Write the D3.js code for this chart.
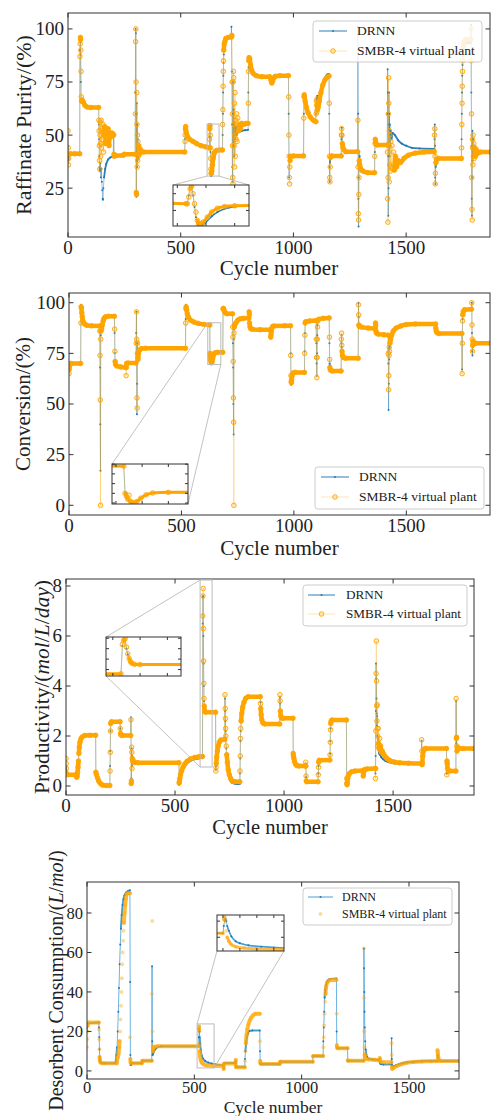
<!DOCTYPE html>
<html>
<head>
<meta charset="utf-8">
<script src="https://d3js.org/d3.v7.min.js"></script>
<style>
  body { margin: 0; background: #fff; }
  svg { display: block; }
</style>
</head>
<body>
<script>
// cycle / value pairs

var xTicks = [0, 500, 1000, 1500];
var purityTicks = [25, 50, 75, 100];
var convTicks = [0, 25, 50, 75, 100];
var prodTicks = [0, 2, 4, 6, 8];
var desTicks = [0, 20, 40, 60, 80];

var seriesNames = ["DRNN", "SMBR-4 virtual plant"];

var puritySmbr = [
  [0,52],[1,44],[2,36],[3,39],[4,41],[10,41.2],[30,41.2],[52,41.2],
  [53,87],[54,93],[55,96],[56,95],[57,90],[58,80],[59,68],[60,66],[63,66.5],[68,65.5],[75,64],[85,63.2],[100,63],[136,63],
  [137,57],[138,52],[139,45],[140,38],[141,34],[142,50],[143,56],[144,46],[145,40],[146,53],[147,57],[148,44],[150,52],[152,48],[155,55],[158,42],[160,50],[163,54],[166,46],[170,52],[174,48],[178,53],[182,45],[186,51],[190,49],[195,51],[200,50.5],[203,50],
  [204,41],[205,40],[210,40.3],[245,40.5],[250,41],[298,41],
  [299,60],[300,94],[301,100],[302,75],[303,23],[304,22],[305,70],[306,55],[307,35],[308,50],[309,38],[310,47],[312,40],[314,45],[317,41],[320,43.5],[325,42.5],[335,42],[518,42],
  [519,47],[520,50],[521,53],[522,54],[523,52],[525,51],[530,49.5],[540,48],[555,47],[570,46],[590,45],[610,44.5],[626,44],
  [627,44],[628,48],[629,53],[630,54.5],[631,50],[632,44],[633,39],[634,34],[635,32],[636,32],[638,33],[641,36],[644,39],[648,41.3],[653,42.3],[660,42.8],[672,43],[685,43],
  [686,55],[687,62],[688,73],[689,80],[690,85],[691,90],[693,93],[696,94],[700,95.5],[710,96],[726,96.2],
  [727,97],[728,75],[729,60],[730,45],[731,30],[732,27],[733,75],[734,80],[735,77],[736,55],[737,45],[738,65],[739,35],[740,50],[741,70],[742,40],[744,57],[746,48],[748,60],[750,47],[753,58],[756,52],[760,55],[765,53],[770,55.5],[780,55],[790,55.5],[799,55.5],
  [800,65],[801,80],[802,85],[803,86.5],[806,86],[810,83],[815,80.5],[822,79],[835,78],[860,77.5],[895,77.5],[900,76],[904,74.5],[908,75.5],[913,77],[920,77.7],[940,78],[978,78],
  [979,68],[980,50],[981,40],[982,30],[983,27],[984,35],[985,38],[988,40],[1000,40.2],[1045,40.2],
  [1046,58],[1047,68],[1048,69],[1052,66],[1058,63],[1065,60.5],[1075,58.5],[1088,57],[1100,56.3],
  [1101,60],[1102,66],[1103,64],[1104,61],[1105,67],[1106,62],[1108,65],[1110,63],[1115,66],[1122,70],[1130,73.5],[1140,76],[1150,77.3],[1158,77.8],
  [1159,65],[1160,40],[1161,30],[1162,28],[1163,35],[1165,39.5],[1170,40.2],[1212,40.2],
  [1213,50],[1214,53],[1215,50],[1217,46],[1220,44],[1225,43],[1232,42.2],[1285,42.2],
  [1286,57],[1287,35],[1288,13],[1289,10],[1290,22],[1291,30],[1292,38],[1294,36],[1297,34.5],[1302,33.5],[1310,33],[1330,32.3],[1360,32.3],
  [1361,40],[1362,46],[1363,48],[1365,46.5],[1370,45.3],[1416,45.3],
  [1417,42],[1418,20],[1419,9],[1420,30],[1421,60],[1422,77],[1423,65],[1424,45],[1425,28],[1426,52],[1427,36],[1428,50],[1430,33],[1432,47],[1434,35],[1437,45],[1440,34],[1444,42],[1448,33.5],[1453,40],[1458,35],[1465,38],[1475,37],[1490,39],[1510,40.5],[1540,41.5],[1580,42],[1625,42.2],
  [1626,50],[1627,53],[1628,40],[1629,27],[1630,32],[1632,37],[1635,38.5],[1645,39],[1745,39],
  [1746,44],[1747,55],[1748,65],[1749,73],[1750,80],[1751,85],[1752,88],[1754,92],[1757,94],[1765,95],[1787,95],
  [1788,100],[1789,85],[1790,60],[1791,30],[1792,15],[1793,10],[1794,48],[1795,44],[1796,36],[1797,50],[1798,40],[1800,46],[1802,39],[1805,44],[1808,40],[1812,43],[1818,41.5],[1830,42],[1875,42]
];

var purityDrnn = [
  [0,45],[1,40],[2,38],[4,41],[52,41.2],
  [53,90],[54,95],[55,94],[56,88],[57,75],[58,67],[59,66],[63,66],[68,65],[75,64],[85,63],[136,63],
  [137,55],[138,48],[139,40],[140,35],[142,33],[144,37],[146,30],[148,34],[150,28],[152,24],[154,20],[155,19.5],[157,25],[160,30],[165,34],[170,36.5],[178,38.5],[188,39.5],[200,40],[203,51],[204,41],[210,40.3],[250,41],[298,41],
  [299,70],[300,100],[301,98],[302,60],[303,21],[304,40],[305,65],[306,35],[307,55],[308,38],[310,48],[312,39],[315,45],[318,41.5],[322,43],[330,42.2],[518,42],
  [519,48],[521,53],[522,53],[525,51],[530,49.5],[540,48],[555,47],[570,46],[590,45],[610,44.5],[626,44],
  [627,44],[628,49],[629,54],[630,54.8],[631,49],[632,42],[633,36],[634,32],[635,30.7],[637,31],[640,33],[644,36.5],[648,39],[653,41],[660,42.3],[672,43],[685,43],
  [686,50],[687,60],[688,70],[689,78],[690,84],[691,88],[693,92],[696,94],[700,95.5],[710,96],[724,96.5],[725,101],
  [727,80],[728,55],[729,35],[730,28],[731,60],[732,75],[733,45],[735,62],[737,40],[739,56],[741,48],[744,54],[748,50],[752,52],[760,51.5],[770,52],[785,52.3],[799,52.5],
  [800,70],[801,82],[802,86.5],[806,86],[810,83],[815,80.5],[822,79],[835,78],[860,77.5],[895,77.5],[900,76],[904,74.5],[908,75.5],[913,77],[920,77.7],[940,78],[978,78],
  [979,60],[980,40],[981,30],[982,38],[985,39.5],[990,40],[1045,40.2],
  [1046,60],[1047,69],[1052,66],[1058,63],[1065,60.5],[1075,58.5],[1088,57],[1098,56.5],
  [1100,60],[1102,64],[1104,67],[1106,68.4],[1110,68],[1118,69.5],[1125,72],[1133,75],[1142,77.3],[1150,78.5],[1158,78.8],
  [1159,60],[1160,35],[1161,28],[1162,37],[1165,40],[1212,40.2],
  [1213,48],[1214,53.5],[1216,49],[1218,45],[1222,43.5],[1228,42.5],[1235,42.2],[1285,42.2],
  [1286,101],[1287,60],[1288,20],[1289,7],[1290,30],[1291,42],[1292,36],[1294,40],[1296,35],[1300,34],[1310,33.2],[1330,32.5],[1360,32.3],
  [1361,42],[1362,47],[1363,47.5],[1365,46],[1370,45.3],[1416,45.3],
  [1417,60],[1418,81],[1419,70],[1420,40],[1421,12],[1422,25],[1423,55],[1424,70],[1425,45],[1426,60],[1427,40],[1428,55],[1430,45],[1432,52],[1435,48],[1440,51],[1450,50],[1465,47.5],[1480,46],[1500,45],[1525,44],[1560,43.7],[1625,43.5],
  [1626,48],[1627,55],[1628,45],[1629,30],[1630,27],[1631,35],[1633,38],[1640,39],[1745,39],
  [1746,48],[1747,60],[1748,70],[1749,78],[1750,83],[1752,88],[1754,91],[1758,93],[1770,93.3],[1787,93.5],
  [1788,102],[1789,70],[1790,45],[1791,20],[1792,12],[1793,30],[1794,52],[1795,38],[1797,48],[1799,40],[1802,45],[1805,41],[1810,43],[1818,42],[1875,42]
];

var convSmbr = [
  [0,65],[1,67],[2,68.5],[4,69.8],[10,70],[52,70],
  [53,90],[54,98],[55,97.5],[57,95],[59,93],[62,91],[66,90],[72,89.3],[80,88.8],[100,88.6],[136,88.5],
  [137,86],[138,74],[139,52],[140,0],[141,82],[142,86],[145,87],[148,89],[152,91],[156,92.3],[162,93],[175,93.3],[202,93.3],
  [203,87],[204,76],[205,71],[207,69.5],[212,68.8],[230,68.3],[253,68],[254,64],[255,68],[256,70],[262,70.2],[298,70.2],
  [299,80],[300,95.5],[301,82],[302,53],[303,48],[304,75],[305,80],[306,73],[307,72],[309,75],[313,76.5],[320,77.3],[340,77.5],[518,77.5],
  [519,90],[520,97],[521,98],[523,96.5],[526,94.5],[531,93],[540,91.5],[555,90.5],[575,89.8],[600,89.3],[626,89],
  [627,75],[628,73.5],[629,72],[630,74],[631,71],[633,70.3],[636,70.8],[639,72.5],[643,74.2],[648,75.2],[660,75.5],[684,75.5],
  [685,97],[687,97.2],[690,96],[695,95],[702,94.6],[727,94.5],
  [728,88],[729,83],[730,71],[731,53],[732,41],[733,0],[734,85],[735,88],[737,89],[742,90],[750,91.3],[760,92],[775,92.3],[800,92.3],
  [801,95.5],[802,94],[803,90],[805,88],[808,87.2],[815,86.9],[850,86.7],[896,86.7],
  [897,83],[898,84],[899,85.5],[901,87],[905,88.2],[912,88.5],[960,88.6],[985,88.6],
  [986,74],[987,64],[988,61],[989,60.5],[990,62],[992,64],[996,65.3],[1005,65.6],[1047,65.6],
  [1048,75],[1049,84],[1050,90],[1052,90.6],[1070,91],[1099,91.2],
  [1100,82],[1101,73],[1102,63],[1103,73],[1104,82],[1105,88],[1106,91],[1110,91.8],[1130,92.3],[1157,92.5],
  [1158,83],[1159,72],[1160,68],[1162,66.8],[1170,66.3],[1210,66.3],
  [1211,82],[1212,85],[1213,79],[1214,76],[1216,74],[1220,73],[1230,72.6],[1286,72.6],
  [1287,99],[1288,94],[1289,89],[1291,88.3],[1300,88],[1330,87.5],[1362,87.2],
  [1363,90],[1364,88.5],[1365,86],[1367,85],[1375,84.5],[1400,84.2],[1419,84],
  [1420,75],[1421,57],[1422,64],[1423,74],[1424,78],[1425,76],[1427,80],[1430,82],[1435,84],[1442,86],[1455,87.5],[1475,88.5],[1500,89.2],[1540,89.5],[1630,89.5],
  [1631,87.5],[1633,86],[1636,85.2],[1645,84.8],[1747,84.8],
  [1748,65],[1749,80],[1750,91],[1751,94],[1753,95.5],[1758,96.5],[1790,96.8],
  [1791,100],[1792,89],[1793,82],[1794,76],[1795,79],[1797,81],[1800,80.2],[1810,80],[1872,80]
];

var convDrnn = [
  [0,69],[2,70],[52,70],
  [53,95],[54,99],[55,97.5],[57,95],[59,93],[62,91],[66,90],[72,89.3],[80,88.8],[100,88.6],[136,88.5],
  [137,86],[138,68],[139,40],[140,17],[141,84],[142,86],[145,87],[148,89],[152,91],[156,92.3],[162,93],[175,93.3],[202,93.3],
  [203,85],[204,75],[205,70],[207,69],[212,68.8],[230,68.3],[253,68],[255,68],[256,70],[298,70.2],
  [299,85],[300,95.5],[301,75],[302,45],[303,60],[304,80],[305,73],[307,72],[309,75],[313,76.5],[320,77.3],[340,77.5],[518,77.5],
  [519,92],[520,99],[521,98],[523,96.5],[526,94.5],[531,93],[540,91.5],[555,90.5],[575,89.8],[600,89.3],[626,89],
  [627,74],[628,75],[629,73],[630,71],[632,70],[634,70.5],[637,71.5],[640,73],[644,74.5],[650,75.3],[660,75.5],[684,75.5],
  [685,97],[687,97.2],[690,96],[695,95],[702,94.6],[727,94.5],
  [728,89],[729,80],[730,68],[731,50],[732,35],[733,82],[734,87],[737,89],[742,90],[750,91.3],[760,92],[775,92.3],[800,92.3],
  [801,95.5],[802,93],[803,89],[805,87.5],[808,87.2],[815,86.9],[850,86.7],[896,86.7],
  [897,84],[899,86],[901,87],[905,88.2],[912,88.5],[960,88.6],[985,88.6],
  [986,75],[987,62],[988,59.5],[989,61],[990,63],[992,64.5],[996,65.3],[1005,65.6],[1047,65.6],
  [1048,76],[1049,85],[1050,90],[1052,90.6],[1070,91],[1099,91.2],
  [1100,80],[1101,70],[1102,64],[1103,75],[1104,84],[1105,89],[1106,91],[1110,91.8],[1130,92.3],[1157,92.5],
  [1158,80],[1159,70],[1160,68.5],[1163,68.5],[1166,67],[1172,66.3],[1210,66.3],
  [1211,80],[1212,84],[1213,78],[1214,75],[1216,73.5],[1220,73],[1230,72.6],[1286,72.6],
  [1287,100],[1288,93],[1289,88.5],[1291,88.3],[1300,88],[1330,87.5],[1362,87.2],
  [1363,89],[1364,88],[1365,85.5],[1367,85],[1375,84.5],[1400,84.2],[1419,84],
  [1420,70],[1421,47],[1422,60],[1423,72],[1424,77],[1426,79],[1428,81],[1430,82.5],[1435,84.5],[1442,86.5],[1455,88],[1475,89],[1500,89.5],[1540,89.7],[1630,89.7],
  [1631,87],[1633,85.5],[1636,85],[1645,84.8],[1747,84.8],
  [1748,67],[1749,85],[1750,92],[1751,94.5],[1753,95.5],[1758,96.5],[1790,96.8],
  [1791,100],[1792,85],[1793,76],[1794,74],[1795,78],[1797,79.5],[1800,80],[1810,80],[1872,80]
];

var prodSmbr = [
  [0,1.1],[1,0.9],[2,0.7],[3,0.5],[6,0.45],[48,0.45],
  [49,0.35],[51,0.4],[53,0.55],[55,0.75],[57,1.0],[59,1.3],[61,1.55],[64,1.75],[68,1.88],[74,1.96],[85,2.02],[110,2.03],[136,2.03],
  [137,0.55],[140,0.45],[145,0.32],[150,0.2],[158,0.1],[168,0.04],[185,0.02],[201,0.02],
  [202,0.6],[203,1.35],[204,2.2],[205,2.5],[208,2.57],[248,2.57],
  [249,2.3],[250,2.1],[252,2.04],[258,2.02],[297,2.02],
  [298,2.65],[299,0.1],[300,0.2],[301,1.55],[302,1.35],[303,0.7],[304,1.1],[305,1.0],[307,1.05],[310,0.97],[316,0.94],[330,0.93],[518,0.93],
  [519,0.12],[520,0.17],[522,0.3],[525,0.45],[530,0.6],[537,0.76],[545,0.88],[555,0.99],[570,1.08],[590,1.14],[610,1.17],[626,1.18],
  [627,6.8],[628,7.6],[629,7.9],[630,6.3],[631,5.0],[632,4.1],[633,3.5],[634,3.2],[636,3.0],[640,2.95],[686,2.95],
  [687,0.6],[688,0.75],[689,0.9],[691,1.15],[694,1.4],[698,1.6],[703,1.75],[710,1.84],[728,1.86],
  [729,3.65],[730,3.1],[731,2.7],[732,2.3],[733,2.0],[735,1.6],[737,1.25],[740,0.95],[744,0.65],[749,0.45],[755,0.3],[763,0.2],[775,0.17],[797,0.17],
  [798,0.6],[799,1.2],[800,1.9],[801,2.3],[803,2.6],[806,2.9],[810,3.15],[816,3.35],[824,3.5],[835,3.57],[891,3.57],
  [892,3.3],[893,3.1],[895,2.85],[898,2.65],[903,2.52],[912,2.48],[980,2.48],
  [981,3.65],[982,3.4],[983,3.0],[985,2.8],[988,2.72],[995,2.71],[1041,2.71],
  [1042,1.3],[1043,1.2],[1045,1.1],[1048,0.98],[1052,0.88],[1058,0.82],[1068,0.8],[1098,0.8],
  [1099,0.95],[1100,0.8],[1101,0.4],[1102,0.2],[1104,0.17],[1156,0.17],
  [1157,0.45],[1158,0.75],[1159,0.95],[1161,1.03],[1210,1.04],
  [1211,1.25],[1212,1.75],[1213,2.25],[1214,2.5],[1216,2.6],[1220,2.64],[1286,2.64],
  [1287,0.3],[1288,0.1],[1289,0.05],[1290,0.15],[1292,0.3],[1295,0.42],[1300,0.5],[1310,0.57],[1325,0.6],[1362,0.62],
  [1363,0.4],[1364,0.5],[1366,0.6],[1370,0.66],[1380,0.68],[1418,0.7],
  [1419,0.3],[1420,0.7],[1421,2.2],[1422,4.5],[1423,5.8],[1424,4.2],[1425,3.2],[1426,2.6],[1427,3.25],[1428,2.3],[1429,2.0],[1430,1.6],[1432,2.3],[1434,1.7],[1436,1.5],[1438,1.9],[1440,1.45],[1443,1.6],[1446,1.35],[1450,1.4],[1455,1.3],[1462,1.2],[1472,1.1],[1485,1.02],[1505,0.96],[1530,0.93],[1570,0.91],[1630,0.9],
  [1631,1.85],[1632,1.4],[1633,0.85],[1634,0.95],[1636,1.2],[1639,1.4],[1643,1.48],[1650,1.5],[1745,1.5],
  [1746,0.45],[1747,1.0],[1748,0.9],[1750,0.7],[1753,0.62],[1760,0.6],[1788,0.6],
  [1789,3.5],[1790,1.9],[1791,1.95],[1792,1.6],[1793,1.4],[1795,1.5],[1797,1.55],[1800,1.5],[1820,1.5],[1871,1.5]
];

var prodDrnn = [
  [0,0.8],[2,0.55],[4,0.45],[48,0.45],
  [49,0.35],[51,0.4],[53,0.55],[55,0.75],[57,1.0],[59,1.3],[61,1.55],[64,1.75],[68,1.88],[74,1.96],[85,2.0],[110,2.02],[136,2.02],
  [137,0.5],[140,0.42],[145,0.3],[150,0.18],[158,0.08],[168,0.03],[185,0.01],[201,0.01],
  [202,0.8],[203,1.4],[204,2.2],[205,2.5],[208,2.57],[248,2.57],
  [249,2.3],[250,2.1],[252,2.04],[258,2.02],[297,2.02],
  [298,2.75],[299,0.2],[300,0.3],[301,1.5],[302,1.2],[303,0.8],[304,1.05],[305,0.97],[310,0.95],[316,0.93],[330,0.92],[518,0.92],
  [519,0.05],[520,0.1],[522,0.22],[525,0.35],[530,0.5],[537,0.66],[545,0.78],[555,0.9],[570,1.0],[590,1.07],[610,1.11],[626,1.12],
  [627,6.5],[628,7.55],[629,7.6],[630,6.0],[631,4.9],[632,4.0],[633,3.4],[634,3.15],[636,3.0],[640,2.93],[686,2.93],
  [687,0.65],[688,0.8],[689,0.95],[691,1.15],[694,1.4],[698,1.6],[703,1.75],[710,1.84],[728,1.86],
  [729,3.5],[730,3.0],[731,2.6],[732,2.2],[733,1.9],[735,1.5],[737,1.15],[740,0.85],[744,0.55],[749,0.35],[755,0.2],[763,0.12],[775,0.09],[797,0.08],
  [798,0.5],[799,1.1],[800,1.8],[801,2.2],[803,2.55],[806,2.85],[810,3.1],[816,3.33],[824,3.48],[835,3.56],[891,3.56],
  [892,3.35],[893,3.1],[895,2.85],[898,2.65],[903,2.52],[912,2.47],[980,2.47],
  [981,3.55],[982,3.3],[983,2.95],[985,2.78],[988,2.71],[995,2.7],[1041,2.7],
  [1042,1.2],[1043,1.15],[1045,1.05],[1048,0.95],[1052,0.86],[1058,0.81],[1068,0.79],[1098,0.79],
  [1099,0.9],[1100,0.75],[1101,0.35],[1102,0.18],[1104,0.16],[1156,0.16],
  [1157,0.5],[1158,0.8],[1159,0.97],[1161,1.03],[1210,1.03],
  [1211,1.3],[1212,1.8],[1213,2.3],[1214,2.5],[1216,2.6],[1220,2.63],[1286,2.63],
  [1287,0.25],[1288,0.08],[1289,0.04],[1290,0.12],[1292,0.25],[1295,0.38],[1300,0.47],[1310,0.55],[1325,0.59],[1362,0.61],
  [1363,0.42],[1364,0.52],[1366,0.6],[1370,0.65],[1380,0.67],[1418,0.69],
  [1419,0.5],[1420,1.2],[1421,3.0],[1422,4.9],[1423,4.3],[1424,3.5],[1425,2.9],[1426,2.4],[1427,2.8],[1428,2.0],[1429,1.75],[1430,1.5],[1432,1.9],[1434,1.45],[1436,1.3],[1440,1.25],[1446,1.15],[1455,1.07],[1465,1.0],[1480,0.95],[1505,0.91],[1530,0.9],[1570,0.89],[1630,0.89],
  [1631,1.8],[1632,1.3],[1633,0.85],[1634,0.95],[1636,1.2],[1639,1.38],[1643,1.47],[1650,1.49],[1745,1.49],
  [1746,0.5],[1747,0.95],[1748,0.85],[1750,0.68],[1753,0.6],[1760,0.58],[1788,0.58],
  [1789,3.4],[1790,1.7],[1791,1.85],[1792,1.5],[1793,1.35],[1795,1.45],[1797,1.5],[1800,1.48],[1820,1.48],[1871,1.48]
];

var desSmbr = [
  [0,12],[1,16],[2,20],[3,23],[5,24.5],[55,24.5],
  [56,21],[57,16],[58,11],[59,7],[60,5.5],[62,4.5],[66,4],[80,3.9],[139,3.9],
  [140,5],[144,7],[147,9],[150,12],[152,15],[154,20],[156,26],[158,33],[160,40],[162,47],[164,54],[166,60],[168,66],[170,71],[172,75],[175,80],[178,84],[181,87],[184,89.2],[188,90],[200,90],
  [201,17],[202,6],[203,4.3],[206,3.9],[256,3.9],
  [257,5],[260,5.1],[302,5.1],
  [303,39],[304,76],[305,20],[306,12.5],[307,10],[308,11],[310,11.8],[318,12.3],[330,12.5],[520,12.5],
  [521,21],[522,22.5],[523,20],[524,14],[525,10],[527,7.5],[530,5.5],[535,4.2],[545,3.3],[560,2.8],[590,2.5],[636,2.5],
  [637,1],[638,3.5],[640,3.8],[692,3.8],
  [693,5.5],[694,2.5],[695,1.8],[735,1.8],
  [736,5],[738,10],[740,14],[743,18],[747,21],[752,23.5],[758,25.5],[765,27],[775,28.3],[785,28.9],[805,29],
  [806,15],[807,5],[808,3.8],[812,3.5],[898,3.5],
  [899,4.6],[902,4.7],[1052,4.7],
  [1053,7.4],[1055,7.6],[1100,7.6],
  [1101,12],[1103,17],[1105,23],[1107,29],[1109,35],[1111,39],[1114,42.5],[1118,44.5],[1125,45.5],[1135,46],[1162,46],
  [1163,29],[1164,13],[1165,11.7],[1170,11.5],[1214,11.5],
  [1215,5.3],[1218,5.1],[1289,5.1],
  [1290,62],[1291,37],[1292,20],[1293,12],[1294,8.5],[1296,7],[1300,6.2],[1310,5.9],[1340,5.6],[1363,5.4],
  [1364,6.5],[1365,5],[1368,4.6],[1380,4.4],[1418,4.4],
  [1419,14],[1420,8],[1421,2],[1422,1],[1425,1.3],[1430,1.7],[1440,2.3],[1455,3.0],[1470,3.6],[1490,4.1],[1520,4.5],[1560,4.8],[1600,4.9],[1632,5],
  [1633,10.5],[1634,9.5],[1635,8.2],[1636,7],[1638,6],[1642,5.3],[1650,5],[1733,5]
];

var desDrnn = [
  [0,20],[1,22],[3,24],[55,24.5],
  [56,22],[57,17],[58,11],[59,7],[60,5.5],[62,4.5],[66,4],[80,3.9],[132,3.9],
  [134,5],[137,8],[140,12],[143,20],[146,30],[149,42],[152,54],[155,64],[158,72],[162,79],[166,84],[170,87],[175,89],[182,90.3],[190,91],[200,91.5],
  [201,45],[202,8],[203,3],[206,3.2],[210,3.9],[256,3.9],
  [257,5],[260,5.1],[302,5.1],
  [303,53],[304,15],[305,8],[307,8.5],[310,9.5],[315,10.5],[322,11.5],[332,12.2],[345,12.5],[520,12.5],
  [521,17],[522,20.5],[523,21.5],[524,20],[525,17],[527,14],[530,10.5],[535,7.5],[540,6.3],[550,5],[565,4.2],[580,3.7],[600,3.2],[636,3],
  [637,1.5],[638,4],[640,4],[692,4],
  [693,5],[694,2.5],[695,2],[735,2],
  [736,6],[738,10],[741,14],[745,17],[750,19],[756,20.2],[770,20.5],[805,20.5],
  [806,10],[807,4],[808,3.5],[812,3.5],[898,3.5],
  [899,4.6],[902,4.7],[1052,4.7],
  [1053,7.4],[1055,7.6],[1100,7.6],
  [1101,15],[1103,22],[1105,30],[1107,37],[1110,41],[1114,43.5],[1120,45.5],[1130,46.5],[1162,46.8],
  [1163,20],[1164,11.5],[1170,11.5],[1214,11.5],
  [1215,5.3],[1218,5.1],[1289,5.1],
  [1290,62],[1291,52],[1292,40],[1293,30],[1294,22],[1296,15],[1298,11],[1301,8.5],[1305,7],[1312,6.2],[1330,5.8],[1363,5.5],
  [1364,6],[1365,4],[1368,3.5],[1380,3.3],[1418,3.3],
  [1419,16.5],[1420,6],[1421,3],[1423,2.5],[1428,2.4],[1440,2.9],[1455,3.5],[1470,4],[1490,4.4],[1520,4.7],[1560,4.9],[1600,5],[1632,5],
  [1633,8],[1635,6.5],[1638,5.5],[1645,5],[1733,5]
];

// set up page

var width = 491,
  height = 1116;

var FONT = "'Liberation Serif', 'Times New Roman', serif";
var BLUE = "#1f77b4", ORANGE = "#ffa500";
var clipId = 0;

var svg = d3.select("body").append("svg")
    .attr("width", width)
    .attr("height", height);

// split a series into stretches where one marker per cycle would overlap into a band
function runsOf(data, x, y, maxStep) {
  var runs = [], cur = [data[0]];
  for (var i = 1; i < data.length; i++) {
    var p = data[i - 1], q = data[i];
    var dc = q[0] - p[0];
    var dpx = Math.abs(y(q[1]) - y(p[1]));
    if (dc >= 1 && dpx / dc <= maxStep) cur.push(q);
    else { if (cur.length > 1) runs.push(cur); cur = [q]; }
  }
  if (cur.length > 1) runs.push(cur);
  return runs;
}

function addClip(x0, y0, w, h) {
  var id = "clip" + (clipId++);
  svg.append("clipPath").attr("id", id)
    .append("rect").attr("x", x0).attr("y", y0).attr("width", w).attr("height", h);
  return "url(#" + id + ")";
}

function drawSeries(g, x, y, drnn, smbr, st, inset) {
  var line = d3.line().x(function(d) { return x(d[0]); }).y(function(d) { return y(d[1]); });
  var band = d3.line().x(function(d) { return x(d[0]); }).y(function(d) { return y(d[1]); })
      .curve(d3.curveMonotoneX);

  // DRNN
  g.append("path").datum(drnn).attr("d", line)
    .attr("fill", "none").attr("stroke", st.blueLine).attr("stroke-opacity", st.blueLineOp)
    .attr("stroke-width", 1);
  g.selectAll(null).data(runsOf(drnn, x, y, 3.5)).enter().append("path")
    .attr("d", band).attr("fill", "none").attr("stroke", st.blueLine)
    .attr("stroke-opacity", st.blueBandOp).attr("stroke-width", inset ? 1.6 : st.blueBandW);
  g.selectAll(null).data(drnn).enter().append("circle")
    .attr("cx", function(d) { return x(d[0]); }).attr("cy", function(d) { return y(d[1]); })
    .attr("r", 1).attr("fill", BLUE);

  // virtual plant
  if (st.orangeLine) {
    g.append("path").datum(smbr).attr("d", line)
      .attr("fill", "none").attr("stroke", ORANGE).attr("stroke-opacity", 0.3)
      .attr("stroke-width", 1);
  }
  g.selectAll(null).data(runsOf(smbr, x, y, 3.5)).enter().append("path")
    .attr("d", band).attr("fill", "none").attr("stroke", ORANGE)
    .attr("stroke-opacity", st.orangeBandOp).attr("stroke-width", inset ? 3 : st.orangeBandW)
    .attr("stroke-linecap", "round");
  g.selectAll(null).data(smbr).enter().append("circle")
    .attr("cx", function(d) { return x(d[0]); }).attr("cy", function(d) { return y(d[1]); })
    .attr("r", st.markerR)
    .attr("fill", ORANGE).attr("fill-opacity", st.markerFillOp)
    .attr("stroke", st.markerStroke ? ORANGE : "none").attr("stroke-width", 0.9);
}

function frameTicks(g, x, y, xt, yt, len) {
  var x0 = x.range()[0], x1 = x.range()[1], y0 = y.range()[0], y1 = y.range()[1];
  xt.forEach(function(t) {
    g.append("line").attr("x1", x(t)).attr("x2", x(t)).attr("y1", y0).attr("y2", y0 - len);
    g.append("line").attr("x1", x(t)).attr("x2", x(t)).attr("y1", y1).attr("y2", y1 + len);
  });
  yt.forEach(function(t) {
    g.append("line").attr("x1", x0).attr("x2", x0 + len).attr("y1", y(t)).attr("y2", y(t));
    g.append("line").attr("x1", x1).attr("x2", x1 - len).attr("y1", y(t)).attr("y2", y(t));
  });
  g.selectAll("line").attr("stroke", "#333").attr("stroke-width", 1);
  g.append("rect").attr("x", x0).attr("y", y1).attr("width", x1 - x0).attr("height", y0 - y1)
    .attr("fill", "none").attr("stroke", "#333").attr("stroke-width", 1);
}

function drawPanel(c) {
  var x = d3.scaleLinear().domain(c.xDomain).range([c.left, c.right]);
  var y = d3.scaleLinear().domain(c.yDomain).range([c.bottom, c.top]);
  var g = svg.append("g");

  var plot = g.append("g")
    .attr("clip-path", addClip(c.left, c.top, c.right - c.left, c.bottom - c.top));
  drawSeries(plot, x, y, c.drnn, c.smbr, c.style, false);

  // frame, ticks and tick labels
  frameTicks(g.append("g"), x, y, xTicks, c.yTicks, 4.5);
  g.append("g").selectAll("text").data(xTicks).enter().append("text")
    .attr("x", function(d) { return x(d); }).attr("y", c.bottom + c.tickGap)
    .attr("text-anchor", "middle").attr("dy", "0.71em")
    .style("font-family", FONT).style("font-size", c.tickSize + "px").attr("fill", "#222")
    .text(function(d) { return d; });
  g.append("g").selectAll("text").data(c.yTicks).enter().append("text")
    .attr("x", c.left - 4).attr("y", function(d) { return y(d); })
    .attr("text-anchor", "end").attr("dy", "0.34em")
    .style("font-family", FONT).style("font-size", c.tickSize + "px").attr("fill", "#222")
    .text(function(d) { return d; });

  // axis titles
  g.append("text").attr("x", (c.left + c.right) / 2).attr("y", c.xLabelY)
    .attr("text-anchor", "middle").attr("dy", "0.35em")
    .style("font-family", FONT).style("font-size", c.xLabelSize + "px").attr("fill", "#222")
    .text("Cycle number");
  var yl = g.append("text")
    .attr("transform", "translate(" + c.yLabelX + "," + ((c.top + c.bottom) / 2) + ") rotate(-90)")
    .attr("text-anchor", "middle").attr("dy", "0.35em")
    .style("font-family", FONT).style("font-size", c.yLabelSize + "px").attr("fill", "#222");
  c.yLabel.forEach(function(part) {
    yl.append("tspan").style("font-style", part[1] ? "italic" : "normal").text(part[0]);
  });

  // zoomed inset
  var ins = c.inset;
  var ix = d3.scaleLinear().domain(ins.xDomain).range([ins.box[0], ins.box[2]]);
  var iy = d3.scaleLinear().domain(ins.yDomain).range([ins.box[3], ins.box[1]]);
  var rx0 = x(ins.xDomain[0]), rx1 = x(ins.xDomain[1]);
  var ry0 = y(ins.yDomain[1]), ry1 = y(ins.yDomain[0]);
  g.append("rect").attr("x", rx0).attr("y", ry0).attr("width", rx1 - rx0).attr("height", ry1 - ry0)
    .attr("fill", "none").attr("stroke", "#bbb").attr("stroke-width", 1);
  var corner = {
    tl: function(b) { return [b[0], b[1]]; }, tr: function(b) { return [b[2], b[1]]; },
    bl: function(b) { return [b[0], b[3]]; }, br: function(b) { return [b[2], b[3]]; }
  };
  var rbox = [rx0, ry0, rx1, ry1];
  ins.links.forEach(function(l) {
    var a = corner[l[0]](rbox), b = corner[l[1]](ins.box);
    g.append("line").attr("x1", a[0]).attr("y1", a[1]).attr("x2", b[0]).attr("y2", b[1])
      .attr("stroke", "#bbb").attr("stroke-width", 0.9);
  });
  g.append("rect").attr("x", ins.box[0]).attr("y", ins.box[1])
    .attr("width", ins.box[2] - ins.box[0]).attr("height", ins.box[3] - ins.box[1])
    .attr("fill", "#fff");
  var ig = g.append("g").attr("clip-path",
    addClip(ins.box[0], ins.box[1], ins.box[2] - ins.box[0], ins.box[3] - ins.box[1]));
  drawSeries(ig, ix, iy, c.drnn, c.smbr, c.style, true);
  frameTicks(g.append("g"), ix, iy, ix.ticks(3), iy.ticks(3), 3);

  // legend
  var L = c.legend;
  var lg = g.append("g");
  lg.append("rect").attr("x", L.box[0]).attr("y", L.box[1])
    .attr("width", L.box[2] - L.box[0]).attr("height", L.box[3] - L.box[1])
    .attr("rx", 3).attr("fill", "#fff").attr("fill-opacity", 0.85)
    .attr("stroke", "#ccc").attr("stroke-width", 1);
  var hx0 = L.box[0] + L.pad, hx1 = hx0 + L.handle, hm = (hx0 + hx1) / 2;
  // DRNN entry
  lg.append("line").attr("x1", hx0).attr("x2", hx1).attr("y1", L.rows[0]).attr("y2", L.rows[0])
    .attr("stroke", c.style.blueLine).attr("stroke-opacity", 0.6).attr("stroke-width", 1.6);
  lg.append("circle").attr("cx", hm).attr("cy", L.rows[0]).attr("r", 1).attr("fill", BLUE);
  // plant entry
  if (c.style.orangeLine) {
    lg.append("line").attr("x1", hx0).attr("x2", hx1).attr("y1", L.rows[1]).attr("y2", L.rows[1])
      .attr("stroke", ORANGE).attr("stroke-opacity", 0.3).attr("stroke-width", 1);
  }
  lg.append("circle").attr("cx", hm).attr("cy", L.rows[1]).attr("r", c.style.markerR)
    .attr("fill", ORANGE).attr("fill-opacity", c.style.markerFillOp)
    .attr("stroke", c.style.markerStroke ? ORANGE : "none").attr("stroke-width", 0.9);
  lg.selectAll("text").data(seriesNames).enter().append("text")
    .attr("x", hx1 + L.gap).attr("y", function(d, i) { return L.rows[i]; }).attr("dy", "0.33em")
    .style("font-family", FONT).style("font-size", L.size + "px").attr("fill", "#222")
    .text(function(d) { return d; });
}

var styleA = {
  blueLine: BLUE, blueLineOp: 0.45, blueBandOp: 0.9, blueBandW: 1.8,
  orangeLine: true, orangeBandOp: 1, orangeBandW: 4.5,
  markerR: 2.3, markerFillOp: 0.2, markerStroke: true
};
var styleB = {
  blueLine: "#3d9ad6", blueLineOp: 0.75, blueBandOp: 0.9, blueBandW: 2,
  orangeLine: false, orangeBandOp: 0.75, orangeBandW: 4,
  markerR: 2, markerFillOp: 0.4, markerStroke: false
};

drawPanel({
  drnn: purityDrnn, smbr: puritySmbr, style: styleA,
  xDomain: [0, 1872], yDomain: [2, 107.5], yTicks: purityTicks,
  left: 68, right: 490, top: 13, bottom: 237,
  tickSize: 19, tickGap: 4, xLabelY: 268, xLabelSize: 21,
  yLabel: [["Raffinate Purity/(%)", false]], yLabelX: 23, yLabelSize: 22,
  inset: { box: [173, 185, 249, 226], xDomain: [617, 670], yDomain: [30.7, 55.2],
    links: [["bl", "tl"], ["br", "tr"]] },
  legend: { box: [313, 21, 482, 62], rows: [31, 51], pad: 6, handle: 28, gap: 10, size: 13.5 }
});

drawPanel({
  drnn: convDrnn, smbr: convSmbr, style: styleA,
  xDomain: [0, 1872], yDomain: [-4.8, 104.8], yTicks: convTicks,
  left: 69, right: 490, top: 293, bottom: 515,
  tickSize: 19, tickGap: 4, xLabelY: 548, xLabelSize: 21,
  yLabel: [["Conversion/(%)", false]], yLabelX: 23, yLabelSize: 21,
  inset: { box: [112, 464, 188, 504], xDomain: [617, 675], yDomain: [69.5, 90.1],
    links: [["tl", "tl"], ["br", "br"]] },
  legend: { box: [315, 467, 484, 509], rows: [477, 497], pad: 6, handle: 28, gap: 10, size: 13.5 }
});

drawPanel({
  drnn: prodDrnn, smbr: prodSmbr, style: styleA,
  xDomain: [0, 1871], yDomain: [-0.36, 8.28], yTicks: prodTicks,
  left: 66, right: 474, top: 579, bottom: 795,
  tickSize: 19, tickGap: 4, xLabelY: 827, xLabelSize: 20.5,
  yLabel: [["Productivity/(", false], ["mol", true], ["/", false], ["L", true], ["/", false], ["day", true], [")", false]],
  yLabelX: 41, yLabelSize: 21.5,
  inset: { box: [106, 637, 181, 676], xDomain: [615, 670], yDomain: [0.76, 8.24],
    links: [["tl", "tl"], ["bl", "bl"]] },
  legend: { box: [303, 585, 467, 626], rows: [595, 614], pad: 5, handle: 27, gap: 11, size: 13.2 }
});

drawPanel({
  drnn: desDrnn, smbr: desSmbr, style: styleB,
  xDomain: [0, 1733], yDomain: [-4.1, 95.7], yTicks: desTicks,
  left: 87, right: 459, top: 882, bottom: 1079,
  tickSize: 16.5, tickGap: 2, xLabelY: 1106.5, xLabelSize: 17.5,
  yLabel: [["Desorbent Consumption/(", false], ["L", true], ["/", false], ["mol", true], [")", false]],
  yLabelX: 56, yLabelSize: 20,
  inset: { box: [217, 915, 284, 951], xDomain: [513, 592], yDomain: [1.5, 23.8],
    links: [["tl", "bl"], ["br", "br"]] },
  legend: { box: [303, 888, 452, 925], rows: [897, 914], pad: 5, handle: 25, gap: 9, size: 12 }
});
</script>
</body>
</html>
